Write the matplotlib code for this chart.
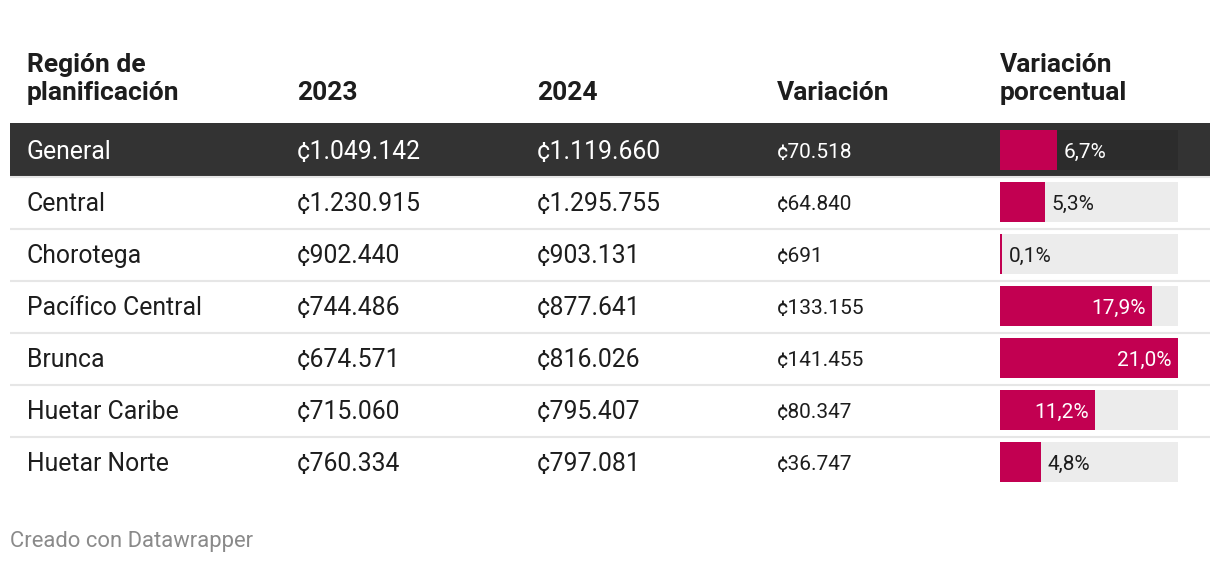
import matplotlib
matplotlib.use("Agg")
import matplotlib.pyplot as plt
from matplotlib.patches import Rectangle

plt.rcParams['font.family'] = ['Roboto', 'DejaVu Sans']

regions = ["General", "Central", "Chorotega", "Pacífico Central", "Brunca", "Huetar Caribe", "Huetar Norte"]
v2023 = ["¢1.049.142", "¢1.230.915", "¢902.440", "¢744.486", "¢674.571", "¢715.060", "¢760.334"]
v2024 = ["¢1.119.660", "¢1.295.755", "¢903.131", "¢877.641", "¢816.026", "¢795.407", "¢797.081"]
variacion = ["¢70.518", "¢64.840", "¢691", "¢133.155", "¢141.455", "¢80.347", "¢36.747"]
pct = [6.7, 5.3, 0.1, 17.9, 21.0, 11.2, 4.8]
headers = ["Región de\nplanificación", "2023", "2024", "Variación", "Variación\nporcentual"]

W, H = 1220, 564
fig = plt.figure(figsize=(W / 100, H / 100), dpi=100)
ax = fig.add_axes([0, 0, 1, 1])
ax.set_xlim(0, W)
ax.set_ylim(H, 0)
ax.axis('off')

txt = '#1d1d1d'
accent = '#c20051'
col_x = [27, 297, 537, 777, 1000]
bar_w = 178
max_pct = max(pct)

# headers
for x, h in zip(col_x, headers):
    ax.text(x, 100, h, fontsize=19, fontweight='bold', color=txt, va='baseline', ha='left',
            linespacing=1.2)

row_top = 124
row_h = 52
for i, reg in enumerate(regions):
    y0 = row_top + i * row_h
    yc = y0 + row_h / 2
    dark = (i == 0)
    if dark:
        ax.add_patch(Rectangle((10, y0 - 1), 1200, row_h + 1, color='#333333', lw=0))
        c = 'white'
    else:
        c = txt
    if i < len(regions) - 1:
        ax.plot([10, 1210], [y0 + row_h + 0.5, y0 + row_h + 0.5], color='#e6e6e6', lw=1.5,
                solid_capstyle='butt')
    ax.text(col_x[0], yc + 2, reg, fontsize=17.8, color=c, va='center', ha='left')
    ax.text(col_x[1], yc + 2, v2023[i], fontsize=17.8, color=c, va='center', ha='left')
    ax.text(col_x[2], yc + 2, v2024[i], fontsize=17.8, color=c, va='center', ha='left')
    ax.text(col_x[3], yc + 3, variacion[i], fontsize=15, color=c, va='center', ha='left')
    # bar
    by = yc - 20
    bh = 40
    ax.add_patch(Rectangle((col_x[4], by), bar_w, bh, color='#2c2c2c' if dark else '#ececec', lw=0))
    w = max(pct[i] / max_pct * bar_w, 2)
    ax.add_patch(Rectangle((col_x[4], by), w, bh, color=accent, lw=0))
    lab = f"{pct[i]:.1f}".replace('.', ',') + '%'
    if pct[i] >= 10:
        ax.text(col_x[4] + w - 6, yc + 2, lab, fontsize=15, color='white', va='center', ha='right')
    else:
        ax.text(col_x[4] + w + 7, yc + 2, lab, fontsize=15, color=c, va='center', ha='left')

ax.text(10, 541, "Creado con Datawrapper", fontsize=15.8, color='#8a8a8a', va='center', ha='left')

fig.savefig('out.png', dpi=100)
